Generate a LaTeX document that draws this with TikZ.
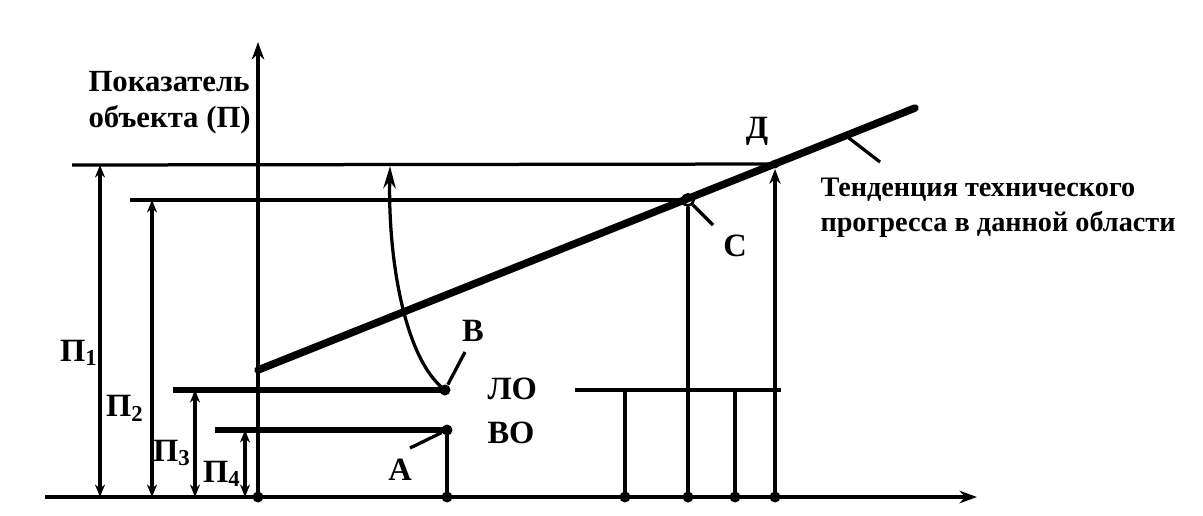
\documentclass[tikz,border=0pt]{standalone}
\usepackage{fontspec}
\setmainfont{Liberation Serif}
\usetikzlibrary{arrows.meta}
\begin{document}
\begin{tikzpicture}[x=0.4pt,y=-0.4pt,
  axisline/.style={line width=1.4pt,-{Stealth[length=7pt,width=5pt]}},
  thinline/.style={line width=1.3pt},
  lvlline/.style={line width=2.2pt},
  trendline/.style={line width=3pt,line cap=round},
  dimline/.style={line width=1.3pt,{Stealth[length=5pt,width=4pt]}-{Stealth[length=5pt,width=4pt]}},
  ptr/.style={line width=1.3pt},
  dotpt/.style={circle,fill,inner sep=0pt,minimum size=4.4pt},
  opendot/.style={circle,draw,fill=white,line width=1.1pt,inner sep=0pt,minimum size=4.5pt},
  lbl/.style={font=\bfseries\fontsize{13}{15}\selectfont,inner sep=0pt},
  txt/.style={font=\bfseries\fontsize{11.3}{14}\selectfont,inner sep=0pt,align=left}]
\useasboundingbox (0,0) rectangle (1203,515);
% coordinates
\coordinate (O) at (258,497);
\coordinate (Xend) at (977,497);
\coordinate (Xstart) at (45,497);
\coordinate (Ytop) at (258,42);
\coordinate (T1) at (258,370);
\coordinate (T2) at (915,108);
\node[opendot] (C) at (688,200) {};
\node[dotpt,minimum size=3.5pt] (D) at (775,164) {};
\node[dotpt] (B) at (445,390) {};
\node[dotpt] (A) at (447,430) {};
% axes
\draw[axisline] (Xstart) -- (Xend);
\draw[axisline] (O) -- (Ytop);
% horizontal levels
\coordinate (L1s) at (72,165);
\coordinate (L2s) at (130,200);
\draw[thinline] (L1s) -- (D.center);
\draw[thinline] (L2s) -- (C);
\coordinate (LOs) at (173,390);
\coordinate (VOs) at (215,430);
\draw[lvlline] (LOs) -- (B.center);
\draw[lvlline] (VOs) -- (A.center);
\coordinate (LO2s) at (575,390);
\coordinate (LO2e) at (781,390);
\draw[thinline] (LO2s) -- (LO2e);
% trend
\draw[trendline] (T1) -- (T2);
% bottom points
\node[dotpt] (x0) at (O) {};
\node[dotpt] (x1) at (447,497) {};
\node[dotpt] (x2) at (625,497) {};
\node[dotpt] (x3) at (688,497) {};
\node[dotpt] (x4) at (735,497) {};
\node[dotpt] (x5) at (775,497) {};
\draw[thinline] (x1.center) -- (A.center);
\draw[thinline] (x2.center) -- (625,390);
\draw[thinline] (x3.center) -- (C);
\draw[thinline] (x4.center) -- (735,390);
\draw[thinline,-{Stealth[length=6pt,width=4.5pt]}] (x5.center) -- (D.south);
% dimension arrows
\draw[dimline] (100,497) -- (100,165);
\draw[dimline] (152,497) -- (152,200);
\draw[dimline] (195,497) -- (195,390);
\draw[dimline] (245,497) -- (245,430);
% curved arrow from B
\coordinate (Ctop) at (390,166);
\draw[thinline,-{Stealth[length=9pt,width=5pt]}] (B.center) .. controls (405,360) and (388,260) .. (Ctop);
% pointers
\coordinate (pA) at (410,448);
\coordinate (pB) at (465,352);
\coordinate (pC) at (713,225);
\coordinate (pT1) at (845,135);
\coordinate (pT2) at (880,162);
\draw[ptr] (pA) -- (A);
\draw[ptr] (pB) -- (B);
\draw[ptr] (C) -- (pC);
\draw[ptr] (pT1) -- (pT2);
% labels
\node[lbl] (lA) at (400,470) {А};
\node[lbl] (lB) at (473,331) {В};
\node[lbl] (lC) at (735,246) {С};
\node[lbl] (lD) at (757,131) {Д};
\node[lbl,anchor=west] (lLO) at (487,389) {ЛО};
\node[lbl,anchor=west] (lVO) at (487,433) {ВО};
\node[lbl] (p1) at (79,353) {П\textsubscript{1}};
\node[lbl] (p2) at (125,408) {П\textsubscript{2}};
\node[lbl] (p3) at (172,453) {П\textsubscript{3}};
\node[lbl] (p4) at (222,474) {П\textsubscript{4}};
\node[txt,anchor=north west,font=\bfseries\fontsize{12.3}{14.2}\selectfont] (ylab) at (88,71) {Показатель\\объекта (П)};
\node[txt,anchor=north west] (tlab) at (820,177) {Тенденция технического\\прогресса в данной области};
\end{tikzpicture}
\end{document}
